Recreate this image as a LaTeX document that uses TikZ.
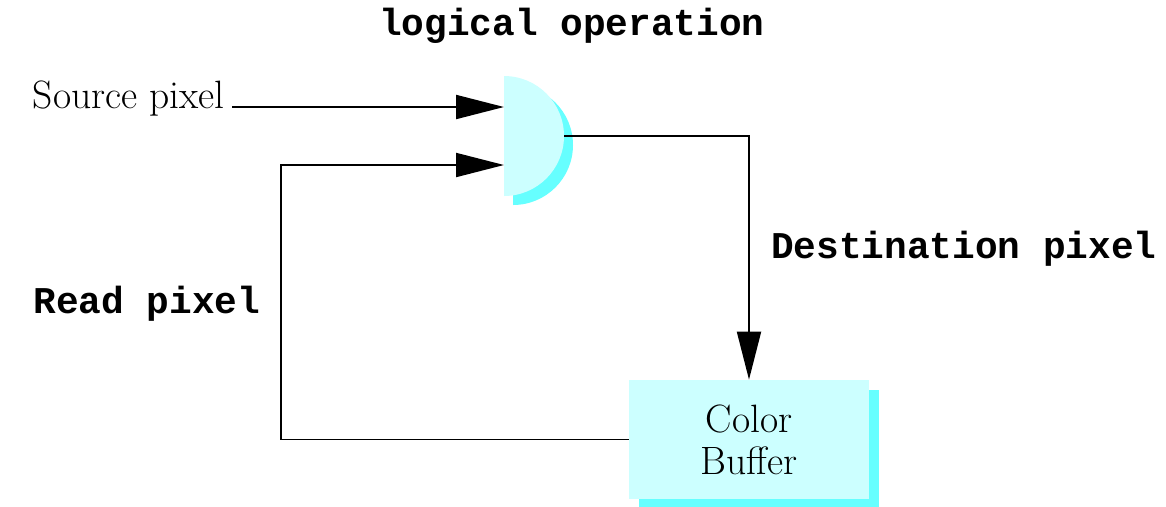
\documentclass[tikz,border=0pt]{standalone}
\usepackage{fontspec}
\setmonofont{Liberation Mono}
\usepackage{xcolor}
\usepackage{tikz}
\usetikzlibrary{arrows.meta, positioning, shadows}

\definecolor{gatecyan}{HTML}{CCFFFF}
\definecolor{shadecyan}{HTML}{66FFFF}

\begin{document}
\begin{tikzpicture}[
    serif/.style={font=\fontsize{22.5}{24}\selectfont, inner sep=0pt},
    label/.style={font=\fontsize{21.5}{24}\selectfont\ttfamily\bfseries, inner sep=0pt},
    buffer/.style={rectangle, fill=gatecyan, minimum width=4.8cm, minimum height=2.38cm, align=center,
        font=\fontsize{22.5}{23.8}\selectfont,
        drop shadow={shadow xshift=0.2cm, shadow yshift=-0.2cm, fill=shadecyan, opacity=1}},
    arrow/.style={-{Triangle[length=0.96cm, width=0.48cm]}, line width=1.1pt}
]
\useasboundingbox (0,0) rectangle (23.32,-10.12);

% Gate (half disk with shadow)
\fill[shadecyan] (10.26,-1.70) -- (10.26,-4.10) arc[start angle=-90, end angle=90, radius=1.2] -- cycle;
\fill[gatecyan] (10.08,-1.52) -- (10.08,-3.92) arc[start angle=-90, end angle=90, radius=1.2] -- cycle;
\coordinate (in1) at (10.08,-2.14);
\coordinate (in2) at (10.08,-3.30);
\coordinate (out) at (11.28,-2.72);

% Color buffer
\node[buffer] at (14.98,-8.79) (cbuf) {Color\\Buffer};

% Texts
\node[serif, anchor=base east] at (4.5,-2.16) (src) {Source pixel};
\node[label, anchor=base] at (11.44,-0.70) (logop) {logical operation};
\node[label, anchor=base] at (19.28,-5.16) (dest) {Destination pixel};
\node[label, anchor=base] at (2.94,-6.26) (readpx) {Read pixel};

% Connectors
\coordinate (turn) at (5.62,-3.30);
\draw[arrow] ([xshift=0.14cm]src.east |- in1) -- (in1);
\draw[arrow] (out) -| (cbuf.north);
\draw[arrow] (cbuf.west) -| (turn) -- (in2);

\end{tikzpicture}
\end{document}
